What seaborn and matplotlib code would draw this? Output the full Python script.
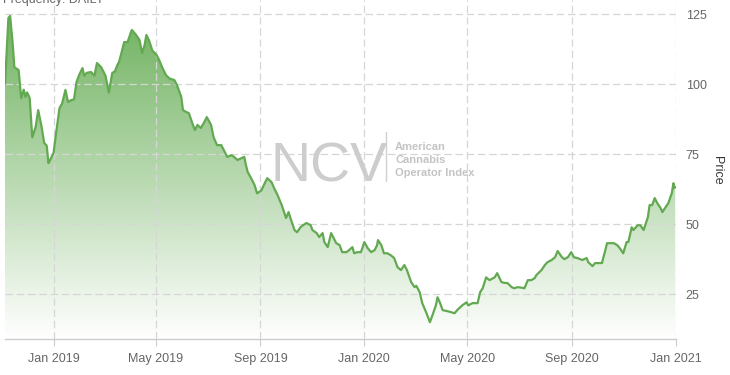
import numpy as np
import pandas as pd
import matplotlib
matplotlib.use("Agg")
import matplotlib.pyplot as plt
import matplotlib.dates as mdates
from matplotlib.colors import LinearSegmentedColormap
import seaborn as sns

# NCV index
dates = [
    "2018-11-05", "2018-11-09", "2018-11-11", "2018-11-14", "2018-11-16", "2018-11-21",
    "2018-11-24", "2018-11-27", "2018-11-29", "2018-12-01", "2018-12-04", "2018-12-07",
    "2018-12-11", "2018-12-14", "2018-12-18", "2018-12-21", "2018-12-24", "2018-12-26",
    "2018-12-28", "2019-01-01", "2019-01-04", "2019-01-08", "2019-01-11", "2019-01-15",
    "2019-01-18", "2019-01-22", "2019-01-25", "2019-01-28", "2019-01-31", "2019-02-04",
    "2019-02-06", "2019-02-09", "2019-02-14", "2019-02-18", "2019-02-21", "2019-02-26",
    "2019-03-03", "2019-03-07", "2019-03-11", "2019-03-14", "2019-03-17", "2019-03-19",
    "2019-03-22", "2019-03-25", "2019-03-29", "2019-04-02", "2019-04-03", "2019-04-08",
    "2019-04-12", "2019-04-15", "2019-04-18", "2019-04-20", "2019-04-23", "2019-04-27",
    "2019-05-02", "2019-05-05", "2019-05-09", "2019-05-13", "2019-05-17", "2019-05-23",
    "2019-05-26", "2019-05-31", "2019-06-02", "2019-06-06", "2019-06-09", "2019-06-13",
    "2019-06-16", "2019-06-19", "2019-06-23", "2019-06-27", "2019-06-30", "2019-07-05",
    "2019-07-08", "2019-07-12", "2019-07-17", "2019-07-20", "2019-07-24", "2019-07-29",
    "2019-08-01", "2019-08-05", "2019-08-10", "2019-08-13", "2019-08-15", "2019-08-17",
    "2019-08-21", "2019-08-25", "2019-08-28", "2019-09-02", "2019-09-06", "2019-09-09",
    "2019-09-14", "2019-09-17", "2019-09-21", "2019-09-26", "2019-09-29", "2019-10-01",
    "2019-10-04", "2019-10-07", "2019-10-11", "2019-10-14", "2019-10-18", "2019-10-21",
    "2019-10-25", "2019-10-30", "2019-11-01", "2019-11-06", "2019-11-09", "2019-11-13",
    "2019-11-15", "2019-11-19", "2019-11-23", "2019-11-26", "2019-11-29", "2019-12-03",
    "2019-12-06", "2019-12-11", "2019-12-14", "2019-12-18", "2019-12-20", "2019-12-24",
    "2019-12-28", "2020-01-01", "2020-01-05", "2020-01-09", "2020-01-13", "2020-01-16",
    "2020-01-17", "2020-01-21", "2020-01-24", "2020-01-28", "2020-02-01", "2020-02-05",
    "2020-02-09", "2020-02-13", "2020-02-17", "2020-02-20", "2020-02-25", "2020-02-29",
    "2020-03-02", "2020-03-06", "2020-03-09", "2020-03-14", "2020-03-18", "2020-03-21",
    "2020-03-25", "2020-03-27", "2020-03-30", "2020-04-02", "2020-04-08", "2020-04-16",
    "2020-04-19", "2020-04-25", "2020-04-30", "2020-05-02", "2020-05-07", "2020-05-13",
    "2020-05-16", "2020-05-19", "2020-05-23", "2020-05-27", "2020-06-02", "2020-06-05",
    "2020-06-10", "2020-06-14", "2020-06-17", "2020-06-22", "2020-06-25", "2020-06-29",
    "2020-07-04", "2020-07-07", "2020-07-11", "2020-07-15", "2020-07-19", "2020-07-21",
    "2020-07-27", "2020-07-31", "2020-08-03", "2020-08-08", "2020-08-12", "2020-08-15",
    "2020-08-20", "2020-08-23", "2020-08-27", "2020-08-31", "2020-09-03", "2020-09-07",
    "2020-09-13", "2020-09-18", "2020-09-20", "2020-09-25", "2020-09-28", "2020-10-02",
    "2020-10-06", "2020-10-10", "2020-10-12", "2020-10-17", "2020-10-20", "2020-10-24",
    "2020-10-27", "2020-10-31", "2020-11-04", "2020-11-06", "2020-11-10", "2020-11-12",
    "2020-11-17", "2020-11-20", "2020-11-24", "2020-11-29", "2020-12-01", "2020-12-04",
    "2020-12-07", "2020-12-10", "2020-12-14", "2020-12-16", "2020-12-20", "2020-12-23",
    "2020-12-27", "2020-12-29", "2020-12-30", "2020-12-31",
]
prices = [
    100.0, 123.6, 124.3, 114.6, 106.0, 105.0,
    95.0, 98.0, 95.4, 97.0, 95.0, 81.0,
    84.7, 90.7, 84.7, 79.0, 78.0, 71.8,
    72.9, 75.4, 82.5, 91.4, 93.0, 97.9,
    93.6, 94.3, 94.5, 100.7, 103.2, 105.7,
    103.0, 104.0, 104.3, 103.0, 107.5, 106.0,
    103.0, 97.0, 104.0, 104.5, 106.8, 108.0,
    111.4, 115.0, 115.0, 118.6, 119.3, 117.5,
    115.7, 111.0, 114.0, 117.5, 115.7, 112.0,
    110.4, 108.6, 105.7, 103.2, 102.0, 101.4,
    99.6, 95.4, 90.7, 90.0, 89.6, 86.0,
    83.6, 85.4, 84.3, 86.4, 88.2, 85.4,
    81.0, 78.2, 78.2, 76.4, 74.0, 74.6,
    74.0, 72.9, 73.6, 74.0, 71.0, 68.6,
    66.4, 64.0, 61.0, 62.0, 64.6, 66.4,
    65.0, 62.9, 60.4, 56.8, 54.0, 52.2,
    54.3, 51.4, 47.9, 47.1, 48.9, 49.6,
    50.4, 49.6, 47.9, 46.8, 45.4, 46.8,
    43.6, 41.8, 46.8, 45.0, 43.2, 42.5,
    40.0, 40.0, 40.7, 41.8, 39.6, 40.0,
    40.0, 43.6, 41.4, 40.0, 40.7, 42.5,
    44.3, 42.5, 39.6, 39.6, 38.9, 37.9,
    34.6, 33.6, 35.4, 33.6, 29.3, 27.5,
    28.0, 25.7, 21.8, 18.2, 15.0, 17.5,
    21.0, 23.9, 21.8, 19.3, 18.9, 18.2,
    19.3, 21.0, 22.1, 21.0, 21.8, 21.8,
    25.7, 27.1, 31.0, 30.0, 31.0, 32.5,
    29.3, 29.0, 29.0, 27.5, 27.1, 27.5,
    27.3, 27.1, 30.0, 30.0, 30.7, 31.8,
    33.6, 35.4, 36.4, 37.2, 38.2, 40.4,
    38.2, 37.5, 38.2, 40.0, 38.2, 37.9,
    37.2, 37.9, 36.4, 35.0, 36.1, 36.1,
    36.1, 40.7, 43.2, 43.2, 43.2, 42.5,
    41.4, 39.6, 43.6, 43.6, 48.9, 47.9,
    49.6, 49.6, 47.9, 52.5, 56.8, 56.8,
    59.3, 57.5, 55.7, 54.3, 56.1, 57.5,
    61.0, 64.6, 62.9, 63.2,
]
y_ticks = [25, 50, 75, 100, 125]

df = pd.DataFrame({"date": pd.to_datetime(dates), "price": prices})

sns.set_style("white")
plt.rcParams["font.family"] = ["Liberation Sans", "DejaVu Sans"]

fig = plt.figure(figsize=(7.3, 3.75), dpi=100)
ax = fig.add_axes([5 / 730, 1 - 339 / 375, 671 / 730, 339 / 375])

x0 = mdates.date2num(pd.Timestamp("2018-11-05"))
x1 = mdates.date2num(pd.Timestamp("2021-01-01"))
y0, y1 = 9.0, 130.0

# gradient area under the line
poly = ax.fill_between(df["date"], df["price"], y0, color="none", lw=0)
cmap = LinearSegmentedColormap.from_list("fade", ["#ffffff", "#6aaf59"])
grad = np.linspace(1, 0, 256).reshape(-1, 1)
im = ax.imshow(grad, extent=[x0, x1, y0, y1], aspect="auto", cmap=cmap,
               origin="upper", zorder=1, vmin=0, vmax=1)
im.set_clip_path(poly.get_paths()[0], transform=ax.transData)

sns.lineplot(data=df, x="date", y="price", ax=ax, color="#62a951",
             linewidth=1.6, zorder=3)

ax.set_xlim(x0, x1)
ax.set_ylim(y0, y1)

ax.xaxis.set_major_locator(mdates.MonthLocator(bymonth=[1, 5, 9]))
ax.xaxis.set_major_formatter(mdates.DateFormatter("%b %Y"))
ax.set_yticks(y_ticks)
ax.yaxis.tick_right()

ax.grid(True, linestyle=(0, (6, 3)), color="#d6d6d6", linewidth=0.9)
ax.set_axisbelow(False)

for s in ["top", "left", "right"]:
    ax.spines[s].set_visible(False)
ax.spines["bottom"].set_color("#cccccc")
ax.spines["bottom"].set_linewidth(1)

ax.tick_params(axis="x", direction="out", length=5, width=0.8, color="#cccccc",
               labelsize=9, labelcolor="#666666", pad=5, bottom=True)
ax.tick_params(axis="y", length=0, labelsize=9, labelcolor="#666666", pad=7,
               right=True, left=False)
ax.set_xlabel("")
ax.set_ylabel("")

fig.text(717 / 730, 1 - 170 / 375, "Price", rotation=-90, ha="center",
         va="center", fontsize=9, color="#333333")
fig.text(3 / 730, 1 - 3 / 375, "Frequency: DAILY", ha="left", va="baseline",
         fontsize=9, color="#666666")

# watermark
fig.text(329 / 730, 1 - 181 / 375, "NCV", ha="center", va="baseline",
         fontsize=40, color="#cdcdcd", zorder=2)
fig.add_artist(plt.Line2D([386 / 730, 386 / 730], [1 - 132 / 375, 1 - 181 / 375],
                          color="#d0d0d0", lw=1))
for i, word in enumerate(["American", "Cannabis", "Operator Index"]):
    fig.text(395 / 730, 1 - (150 + 13 * i) / 375, word, ha="left",
             va="baseline", fontsize=8, color="#c4c4c4", fontweight="bold")

fig.savefig("out.png", dpi=100)
